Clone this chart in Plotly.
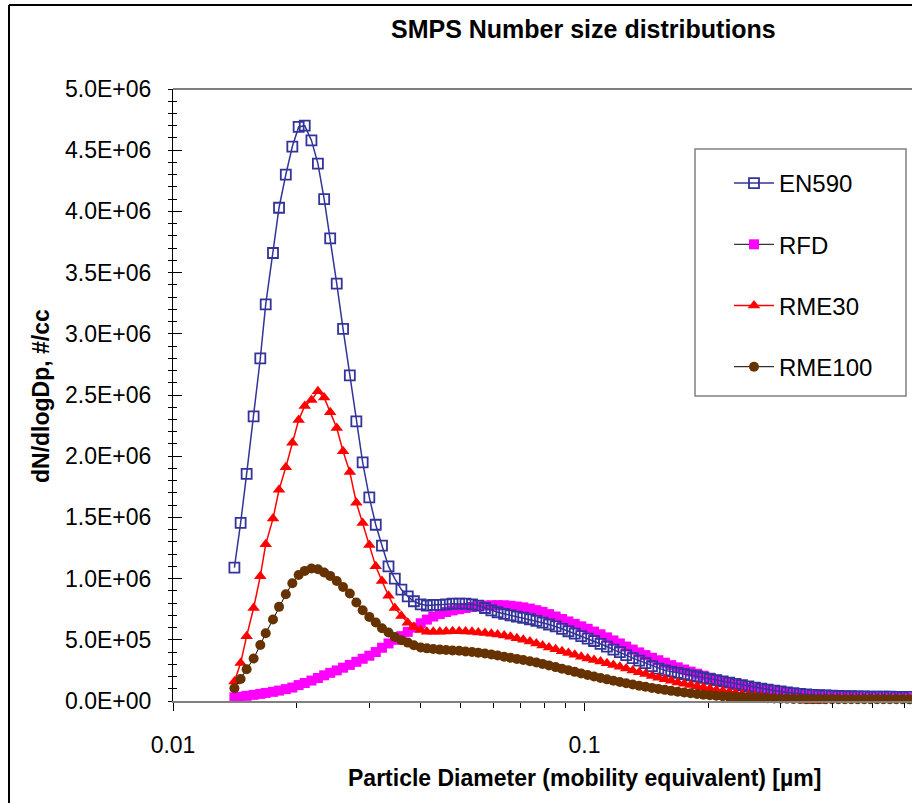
import plotly.graph_objects as go

# Particle mobility diameters (µm), SMPS channels
diam_um = [0.0141,0.0146,0.0151,0.0157,0.0163,0.0168,0.0175,0.0181,0.0188,0.0195,
           0.0202,0.0209,0.0217,0.0225,0.0233,0.0241,0.0250,0.0259,0.0269,0.0279,
           0.0289,0.0300,0.0311,0.0322,0.0334,0.0346,0.0359,0.0372,0.0385,0.0400,
           0.0414,0.0429,0.0445,0.0461,0.0478,0.0496,0.0514,0.0533,0.0552,0.0573,
           0.0594,0.0615,0.0638,0.0661,0.0685,0.0710,0.0737,0.0764,0.0791,0.0820,
           0.0851,0.0882,0.0914,0.0947,0.0982,0.1018,0.1055,0.1094,0.1134,0.1176,
           0.1219,0.1263,0.1310,0.1358,0.1407,0.1459,0.1512,0.1568,0.1625,0.1685,
           0.1747,0.1811,0.1877,0.1946,0.2017,0.2091,0.2167,0.2247,0.2329,0.2414,
           0.2503,0.2595,0.2690,0.2788,0.2890,0.2996,0.3106,0.3220,0.3338,0.3460,
           0.3587,0.3718,0.3854,0.3995,0.4142,0.4294,0.4451,0.4614,0.4783,0.4958,
           0.5140,0.5328,0.5523,0.5725,0.5935,0.6153,0.6378]

# dN/dlogDp in millions of #/cc
en590_M = [1.09,1.455,1.856,2.325,2.80,3.24,3.66,4.03,4.30,4.53,
           4.69,4.70,4.58,4.39,4.10,3.78,3.41,3.04,2.66,2.285,
           1.95,1.663,1.44,1.27,1.10,1.00,0.91,0.854,0.815,0.79,
           0.78,0.785,0.785,0.79,0.795,0.795,0.795,0.79,0.78,0.76,
           0.74,0.725,0.712,0.70,0.69,0.68,0.668,0.655,0.64,0.625,
           0.61,0.59,0.57,0.55,0.53,0.51,0.49,0.467,0.445,0.42,
           0.40,0.375,0.35,0.33,0.31,0.285,0.265,0.25,0.24,0.23,
           0.22,0.21,0.20,0.19,0.18,0.17,0.16,0.15,0.14,0.13,
           0.12,0.11,0.10,0.092,0.085,0.078,0.071,0.065,0.059,0.054,
           0.05,0.047,0.045,0.043,0.041,0.04,0.039,0.038,0.037,0.036,
           0.036,0.035,0.035,0.034,0.034,0.033,0.033]

rfd_M = [0.03,0.035,0.042,0.05,0.058,0.066,0.075,0.085,0.097,0.11,
         0.13,0.147,0.167,0.188,0.21,0.23,0.25,0.272,0.295,0.32,
         0.345,0.37,0.40,0.435,0.47,0.50,0.53,0.565,0.60,0.635,
         0.665,0.69,0.71,0.727,0.74,0.75,0.76,0.768,0.775,0.78,
         0.782,0.783,0.782,0.778,0.772,0.765,0.755,0.742,0.728,0.71,
         0.69,0.67,0.65,0.63,0.61,0.59,0.567,0.545,0.52,0.495,
         0.47,0.445,0.42,0.397,0.375,0.353,0.333,0.313,0.293,0.275,
         0.257,0.24,0.223,0.207,0.19,0.175,0.16,0.147,0.135,0.122,
         0.11,0.10,0.092,0.085,0.078,0.072,0.065,0.058,0.052,0.047,
         0.043,0.04,0.037,0.035,0.034,0.033,0.032,0.031,0.03,0.03,
         0.029,0.029,0.028,0.028,0.028,0.027,0.027]

rme30_M = [0.16,0.31,0.53,0.76,1.02,1.28,1.49,1.725,1.91,2.11,
           2.295,2.41,2.46,2.53,2.48,2.36,2.23,2.04,1.87,1.62,
           1.455,1.275,1.10,0.98,0.86,0.76,0.695,0.64,0.605,0.58,
           0.565,0.565,0.565,0.568,0.57,0.57,0.568,0.565,0.56,0.555,
           0.55,0.543,0.535,0.525,0.513,0.5,0.486,0.47,0.453,0.437,
           0.422,0.407,0.392,0.377,0.362,0.348,0.335,0.322,0.308,0.294,
           0.28,0.265,0.25,0.235,0.22,0.205,0.19,0.177,0.165,0.152,
           0.14,0.13,0.12,0.11,0.10,0.09,0.082,0.074,0.066,0.058,
           0.05,0.043,0.036,0.03,0.024,0.019,0.014,0.01,0.006,0.003,
           0.001,0.0,-0.002,-0.003,-0.004,-0.004,-0.005,-0.005,-0.005,-0.005,
           -0.005,-0.005,-0.005,-0.005,-0.005,-0.005,-0.005]

rme100_M = [0.104,0.18,0.26,0.347,0.458,0.554,0.666,0.769,0.872,0.962,
            1.03,1.063,1.083,1.077,1.05,1.022,0.981,0.932,0.878,0.805,
            0.742,0.687,0.641,0.594,0.559,0.523,0.496,0.477,0.455,0.437,
            0.43,0.425,0.42,0.417,0.413,0.41,0.405,0.40,0.395,0.388,
            0.38,0.372,0.362,0.353,0.344,0.335,0.325,0.315,0.303,0.29,
            0.277,0.264,0.251,0.238,0.225,0.212,0.2,0.188,0.177,0.166,
            0.155,0.145,0.135,0.125,0.116,0.107,0.099,0.091,0.083,0.076,
            0.069,0.063,0.057,0.052,0.047,0.043,0.039,0.036,0.033,0.03,
            0.028,0.026,0.024,0.022,0.02,0.019,0.018,0.017,0.016,0.015,
            0.015,0.014,0.014,0.014,0.014,0.014,0.014,0.014,0.014,0.014,
            0.014,0.014,0.014,0.014,0.014,0.014,0.014]

y_tick_vals = [0, 5e5, 1e6, 1.5e6, 2e6, 2.5e6, 3e6, 3.5e6, 4e6, 4.5e6, 5e6]
y_tick_text = ["0.0E+00", "5.0E+05", "1.0E+06", "1.5E+06", "2.0E+06", "2.5E+06",
               "3.0E+06", "3.5E+06", "4.0E+06", "4.5E+06", "5.0E+06"]
x_tick_vals = [0.01, 0.1]
x_tick_text = ["0.01", "0.1"]
x_minor_vals = [0.02, 0.03, 0.04, 0.05, 0.06, 0.07, 0.08, 0.09, 0.2, 0.3, 0.4, 0.5, 0.6]

FONT = "Arial, 'Liberation Sans', sans-serif"

# figure pixel geometry
W, H = 912, 803
L, R, T, B = 173, 0, 89, 102
PW, PH = W - L - R, H - T - B


def px(xp):
    return (xp - L) / PW


def py(yp):
    return (H - B - yp) / PH


def scale(vals):
    return [v * 1e6 for v in vals]


fig = go.Figure()

fig.add_trace(go.Scatter(
    x=diam_um, y=scale(rfd_M), name="RFD", mode="lines+markers",
    line=dict(color="black", width=1),
    marker=dict(symbol="square", size=10, color="#FF00FF", line=dict(width=0)),
    legendgroup="b", legendrank=2, cliponaxis=False))
fig.add_trace(go.Scatter(
    x=diam_um, y=scale(en590_M), name="EN590", mode="lines+markers",
    line=dict(color="#333399", width=1.5),
    marker=dict(symbol="square-open", size=10, color="#333399", line=dict(width=1.8, color="#333399")),
    legendgroup="a", legendrank=1, cliponaxis=False))
fig.add_trace(go.Scatter(
    x=diam_um, y=scale(rme30_M), name="RME30", mode="lines+markers",
    line=dict(color="#FF0000", width=1.5),
    marker=dict(symbol="triangle-up", size=11, color="#FF0000", line=dict(width=0)),
    legendgroup="c", legendrank=3, cliponaxis=False))
fig.add_trace(go.Scatter(
    x=diam_um, y=scale(rme100_M), name="RME100", mode="lines+markers",
    line=dict(color="black", width=1),
    marker=dict(symbol="circle", size=10, color="#663300", line=dict(width=0)),
    legendgroup="d", legendrank=4, cliponaxis=False))

# dummy trace for inside ticks on y (cross-style ticks)
fig.add_trace(go.Scatter(x=[0.01], y=[0], yaxis="y2", showlegend=False,
                         mode="markers", marker=dict(opacity=0), hoverinfo="skip"))

fig.update_layout(
    width=W, height=H,
    margin=dict(l=L, r=R, t=T, b=B, pad=0),
    paper_bgcolor="white", plot_bgcolor="white",
    font=dict(family=FONT, size=23, color="black"),
    showlegend=True,
    legend=dict(
        x=px(729), y=py(161), xanchor="left", yanchor="top",
        bgcolor="rgba(0,0,0,0)", borderwidth=0,
        font=dict(family=FONT, size=24, color="black"),
        traceorder="grouped", tracegroupgap=27, itemwidth=40,
    ),
    xaxis=dict(
        type="log", range=[-2, -0.204],
        tickmode="array", tickvals=x_tick_vals, ticktext=x_tick_text,
        ticks="outside", ticklen=8, tickwidth=1, tickcolor="black",
        ticklabelstandoff=14,
        minor=dict(tickmode="array", tickvals=x_minor_vals, ticks="outside",
                   ticklen=5, tickwidth=1, tickcolor="black", showgrid=False),
        showline=True, linecolor="#808080", linewidth=2,
        showgrid=False, zeroline=False,
        tickfont=dict(family=FONT, size=23, color="black"),
    ),
    yaxis=dict(
        range=[0, 5e6],
        tickmode="array", tickvals=y_tick_vals, ticktext=y_tick_text,
        ticks="outside", ticklen=4, tickwidth=1, tickcolor="black",
        ticklabelstandoff=12,
        minor=dict(dtick=1e5, ticks="outside", ticklen=4, tickwidth=1,
                   tickcolor="black", showgrid=False),
        showline=True, linecolor="black", linewidth=1,
        showgrid=False, zeroline=False,
        tickfont=dict(family=FONT, size=23, color="black"),
    ),
    yaxis2=dict(
        overlaying="y", side="left", range=[0, 5e6],
        tickmode="array", tickvals=y_tick_vals, showticklabels=False,
        ticks="inside", ticklen=9, tickwidth=1, tickcolor="black",
        minor=dict(dtick=1e5, ticks="inside", ticklen=4, tickwidth=1,
                   tickcolor="black", showgrid=False),
        showline=False, showgrid=False, zeroline=False,
    ),
    annotations=[
        dict(text="<b>SMPS Number size distributions</b>", xref="paper", yref="paper",
             x=px(583), y=py(29), xanchor="center", yanchor="middle", showarrow=False,
             font=dict(family=FONT, size=25, color="black")),
        dict(text="<b>Particle Diameter (mobility equivalent) [µm]</b>", xref="paper", yref="paper",
             x=px(584), y=py(778), xanchor="center", yanchor="middle", showarrow=False,
             font=dict(family=FONT, size=23, color="black")),
        dict(text="<b>dN/dlogDp, #/cc</b>", xref="paper", yref="paper",
             x=px(41), y=py(396), xanchor="center", yanchor="middle", showarrow=False,
             textangle=-90, font=dict(family=FONT, size=23, color="black")),
    ],
    shapes=[
        # top border of plot area
        dict(type="line", xref="paper", yref="paper", x0=0, x1=1, y0=1, y1=1,
             line=dict(color="black", width=1)),
        # outer chart frame (left and top edges)
        dict(type="line", xref="paper", yref="paper", x0=px(9), x1=px(912), y0=py(5), y1=py(5),
             line=dict(color="black", width=2)),
        dict(type="line", xref="paper", yref="paper", x0=px(9), x1=px(9), y0=py(5), y1=py(803),
             line=dict(color="black", width=2)),
        # legend box
        dict(type="rect", xref="paper", yref="paper", x0=px(695), x1=px(906), y0=py(396), y1=py(149),
             line=dict(color="#808080", width=1.5), fillcolor="rgba(0,0,0,0)", layer="above"),
    ],
)

fig.write_html("out.html")
